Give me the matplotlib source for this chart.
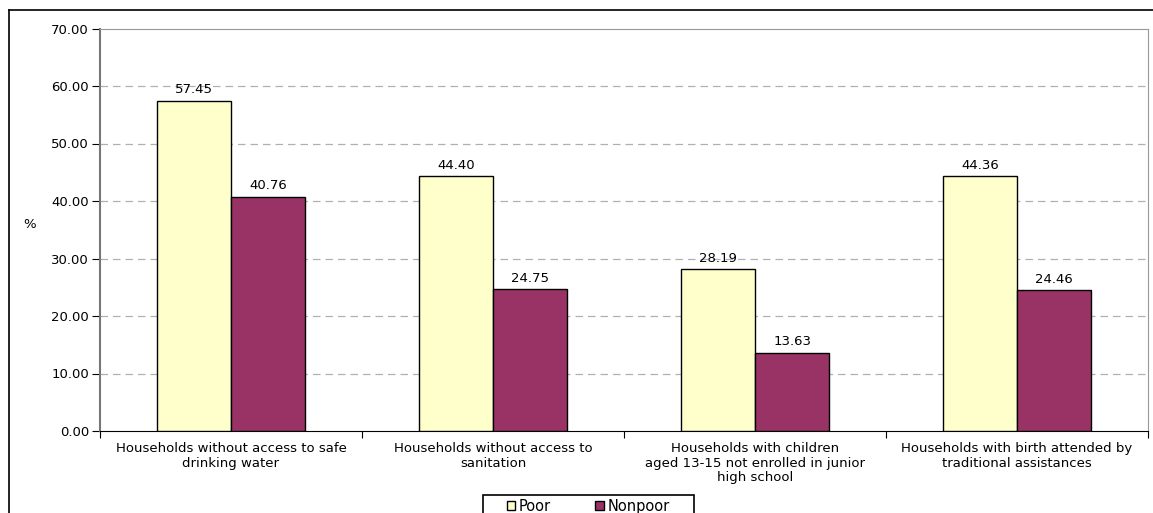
import numpy as np
import matplotlib.pyplot as plt
from matplotlib.lines import Line2D
from matplotlib.patches import Rectangle

categories = ['Households without access to safe\ndrinking water',
              'Households without access to\nsanitation',
              'Households with children\naged 13-15 not enrolled in junior\nhigh school',
              'Households with birth attended by\ntraditional assistances']
poor = [57.45, 44.40, 28.19, 44.36]
nonpoor = [40.76, 24.75, 13.63, 24.46]

plt.rcParams['font.family'] = ['DejaVu Sans']

fig = plt.figure(figsize=(11.53, 5.13), dpi=100)
ax = fig.add_axes([100/1153, 1-431/513, 1048/1153, 402.5/513])

x = np.arange(len(categories))
w = 0.283
b1 = ax.bar(x - w/2, poor, w, color='#FFFFCC', edgecolor='black', linewidth=1, label='Poor', zorder=3)
b2 = ax.bar(x + w/2, nonpoor, w, color='#993366', edgecolor='black', linewidth=1, label='Nonpoor', zorder=3)
for bars in (b1, b2):
    for r in bars:
        ax.annotate('%.2f' % r.get_height(), (r.get_x() + r.get_width()/2, r.get_height()),
                    xytext=(0, 3), textcoords='offset points', ha='center', va='bottom', fontsize=9.5)

ax.set_xlim(-0.5, 3.5)
ax.set_ylim(0, 70)
ax.set_yticks(np.arange(0, 71, 10))
ax.set_yticklabels(['%.2f' % v for v in np.arange(0, 71, 10)], fontsize=9.5)
ax.set_xticks(np.arange(-0.5, 4, 1))
ax.set_xticklabels([])
ax.set_xticks(x, minor=True)
ax.set_xticklabels(categories, minor=True, fontsize=9.5, linespacing=1.15)
ax.tick_params(axis='x', which='minor', length=0, pad=8)
ax.tick_params(axis='x', which='major', length=5, direction='out')
ax.tick_params(axis='y', length=6, direction='out', pad=2)
for v in range(10, 70, 10):
    ax.axhline(v, color='#b0b0b0', linestyle=(0, (6, 4)), linewidth=0.9, zorder=1)

for s in ('top', 'right'):
    ax.spines[s].set_color('#999999')
ax.spines['left'].set_color('#777777')
ax.spines['left'].set_linewidth(1.5)
ax.spines['bottom'].set_color('black')

fig.text(30/1153, 1-225/513, '%', fontsize=9.5, ha='center', va='center')

# legend without its own frame, box drawn separately (it runs off the bottom edge)
fig.legend(handles=[b1, b2], labels=['Poor', 'Nonpoor'], loc='upper center',
           bbox_to_anchor=(588/1153, 1-496/513), borderaxespad=0, ncol=2, frameon=False,
           fontsize=10.5, handlelength=0.6, handleheight=0.6,
           columnspacing=3.0, handletextpad=0.25, borderpad=0.2)
fig.add_artist(Rectangle((483/1153, -0.05), 211/1153, 0.05 + 18/513, transform=fig.transFigure,
                         fill=False, edgecolor='black', linewidth=1.2))

fig.add_artist(Line2D([9/1153, 9/1153], [0, 1-10/513], color='black', linewidth=1.2))
fig.add_artist(Line2D([9/1153, 1], [1-10/513, 1-10/513], color='black', linewidth=1.2))

fig.savefig('out.png', dpi=100)
